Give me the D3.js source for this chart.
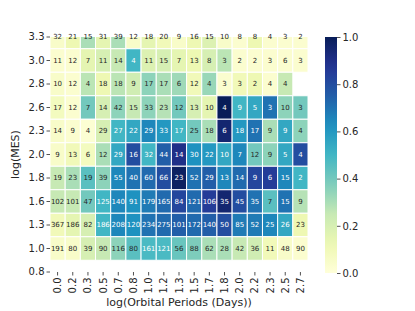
<!DOCTYPE html>
<html>
<head>
<meta charset="utf-8">
<script src="https://cdn.jsdelivr.net/npm/d3@7"></script>
<style>
  body { margin: 0; background: #fff; }
  text { font-family: "DejaVu Sans", sans-serif; }
</style>
</head>
<body>
<svg id="chart" width="415" height="311"></svg>
<script>
var svg = d3.select("#chart");

// column / row labels
var periodLabels = ["0.0","0.2","0.3","0.5","0.7","0.8","1.0","1.2","1.3","1.5","1.7","1.8","2.0","2.2","2.3","2.5","2.7"];
var mesLabels = ["3.3","3.0","2.8","2.6","2.3","2.0","1.8","1.6","1.3","1.0","0.8"];

// counts written in each cell (rows top to bottom)
var counts = [
  [32,21,15,31,39,12,18,20,9,16,15,10,8,8,4,3,2],
  [11,12,7,11,14,4,11,15,7,13,8,3,2,2,3,6,3],
  [10,12,4,18,18,9,17,17,6,12,4,3,3,2,4,4,null],
  [17,12,7,14,42,15,33,23,12,13,10,4,9,5,3,10,3],
  [14,9,4,29,27,22,29,33,17,25,18,6,18,17,9,9,4],
  [9,13,6,12,29,16,32,44,14,30,22,10,7,12,9,5,4],
  [19,23,19,39,55,40,60,66,23,52,29,13,14,9,6,15,2],
  [102,101,47,125,140,91,179,165,84,121,106,35,45,35,7,15,9],
  [367,186,82,186,208,120,234,275,101,172,140,50,85,52,25,26,23],
  [191,80,39,90,116,80,161,121,56,88,62,28,42,36,11,48,90]
];

// colour value of each cell (0..1)
var shares = [
  [0.05,0.12,0.30,0.15,0.30,0.05,0.15,0.10,0.05,0.12,0.18,0.05,0.03,0.12,0.03,0.03,0.03],
  [0.03,0.03,0.15,0.20,0.25,0.50,0.18,0.20,0.15,0.12,0.20,0.27,0.03,0.03,0.03,0.03,0.03],
  [0.05,0.03,0.27,0.12,0.27,0.22,0.35,0.30,0.32,0.10,0.33,0.03,0.10,0.12,0.03,0.25,null],
  [0.08,0.03,0.40,0.20,0.35,0.25,0.35,0.28,0.40,0.20,0.15,1.00,0.50,0.55,0.70,0.35,0.40],
  [0.05,0.03,0.02,0.20,0.50,0.55,0.65,0.60,0.50,0.40,0.30,0.95,0.60,0.70,0.30,0.55,0.35],
  [0.05,0.10,0.08,0.30,0.55,0.80,0.50,0.75,0.90,0.62,0.60,0.55,0.65,0.40,0.35,0.55,0.80],
  [0.25,0.30,0.45,0.35,0.65,0.70,0.72,0.80,0.98,0.70,0.75,0.65,0.72,0.82,0.85,0.65,0.50],
  [0.25,0.25,0.40,0.50,0.65,0.62,0.68,0.72,0.82,0.72,0.85,0.95,0.80,0.70,0.45,0.70,0.28],
  [0.10,0.15,0.20,0.50,0.65,0.62,0.70,0.72,0.75,0.72,0.75,0.80,0.68,0.68,0.65,0.55,0.12],
  [0.05,0.05,0.20,0.25,0.35,0.45,0.48,0.48,0.42,0.38,0.30,0.30,0.25,0.22,0.10,0.05,0.03]
];

var colorTicks = [0.0, 0.2, 0.4, 0.6, 0.8, 1.0];

var ylgnbu = ["#ffffd9","#edf8b1","#c7e9b4","#7fcdbb","#41b6c4","#1d91c0","#225ea8","#253494","#081d58"];
var color = d3.scaleLinear()
  .domain(d3.range(ylgnbu.length).map(function (i) { return i / (ylgnbu.length - 1); }))
  .range(ylgnbu);

var plotLeft = 50, plotRight = 308, plotTop = 37, plotBottom = 272;
var rowH = (plotBottom - plotTop) / (mesLabels.length - 1);

var x = d3.scaleBand().domain(periodLabels).range([plotLeft, plotRight]);
// plot area starts and ends in the middle of the first / last band
var y = d3.scaleBand().domain(mesLabels).range([plotTop - rowH / 2, plotBottom + rowH / 2]);

svg.append("clipPath").attr("id", "plotClip")
  .append("rect")
  .attr("x", plotLeft).attr("y", plotTop)
  .attr("width", plotRight - plotLeft).attr("height", plotBottom - plotTop);

var cells = [];
counts.forEach(function (row, i) {
  row.forEach(function (c, j) {
    if (c === null) return;
    cells.push({ row: mesLabels[i], col: periodLabels[j], count: c, v: shares[i][j] });
  });
});

function textColor(v) {
  var c = d3.rgb(color(v));
  var lum = [c.r, c.g, c.b].map(function (u) {
    u = u / 255;
    return u <= 0.03928 ? u / 12.92 : Math.pow((u + 0.055) / 1.055, 2.4);
  });
  var l = 0.2126 * lum[0] + 0.7152 * lum[1] + 0.0722 * lum[2];
  return l > 0.408 ? "#262626" : "#ffffff";
}

svg.append("g").attr("clip-path", "url(#plotClip)")
  .selectAll("rect").data(cells).enter()
  .append("rect")
  .attr("x", function (d) { return x(d.col); })
  .attr("y", function (d) { return y(d.row); })
  .attr("width", x.bandwidth())
  .attr("height", y.bandwidth())
  .attr("fill", function (d) { return color(d.v); })
  .attr("stroke", "#ffffff")
  .attr("stroke-width", 1);

svg.append("g").selectAll("text").data(cells).enter()
  .append("text")
  .attr("x", function (d) { return x(d.col) + x.bandwidth() / 2; })
  .attr("y", function (d) { return y(d.row) + y.bandwidth() / 2; })
  .attr("dy", "0.35em")
  .attr("text-anchor", "middle")
  .attr("font-size", 7)
  .attr("fill", function (d) { return textColor(d.v); })
  .text(function (d) { return d.count; });

//y-axis
var yAxis = svg.append("g")
  .attr("transform", "translate(" + plotLeft + ",0)")
  .call(d3.axisLeft(y).tickSize(3.5).tickPadding(2));
yAxis.select(".domain").remove();
yAxis.selectAll("text").attr("font-size", 10).attr("fill", "#262626");
yAxis.selectAll("line").attr("stroke", "#262626").attr("stroke-width", 0.8);

//x-axis, labels rotated
var xAxis = svg.append("g")
  .attr("transform", "translate(0," + plotBottom + ")")
  .call(d3.axisBottom(x).tickSize(3.5).tickPadding(2));
xAxis.select(".domain").remove();
xAxis.selectAll("line").attr("stroke", "#262626").attr("stroke-width", 0.8);
xAxis.selectAll("text")
  .attr("font-size", 10)
  .attr("fill", "#262626")
  .attr("transform", "rotate(-90)")
  .attr("text-anchor", "end")
  .attr("x", -5.5)
  .attr("y", 0)
  .attr("dy", "0.35em");

//axis titles
svg.append("text")
  .attr("x", (plotLeft + plotRight) / 2)
  .attr("y", 306)
  .attr("text-anchor", "middle")
  .attr("font-size", 11)
  .attr("fill", "#262626")
  .text("log(Orbital Periods (Days))");

svg.append("text")
  .attr("transform", "translate(19," + ((plotTop + plotBottom) / 2) + ")rotate(-90)")
  .attr("text-anchor", "middle")
  .attr("font-size", 11)
  .attr("fill", "#262626")
  .text("log(MES)");

//colorbar
var cbX = 325, cbW = 12;
var cbScale = d3.scaleLinear().domain([0, 1]).range([plotBottom + 1, plotTop]);
var grad = svg.append("defs").append("linearGradient")
  .attr("id", "cbGrad").attr("x1", 0).attr("y1", 1).attr("x2", 0).attr("y2", 0);
d3.range(0, 1.0001, 0.05).forEach(function (t) {
  grad.append("stop").attr("offset", t).attr("stop-color", color(t));
});
svg.append("rect")
  .attr("x", cbX).attr("y", plotTop)
  .attr("width", cbW).attr("height", plotBottom + 1 - plotTop)
  .attr("fill", "url(#cbGrad)");

var cbAxis = svg.append("g")
  .attr("transform", "translate(" + (cbX + cbW) + ",0)")
  .call(d3.axisRight(cbScale).tickValues(colorTicks).tickFormat(d3.format(".1f")).tickSize(3.5).tickPadding(2));
cbAxis.select(".domain").remove();
cbAxis.selectAll("text").attr("font-size", 10).attr("fill", "#262626");
cbAxis.selectAll("line").attr("stroke", "#262626").attr("stroke-width", 0.8);
</script>
</body>
</html>
